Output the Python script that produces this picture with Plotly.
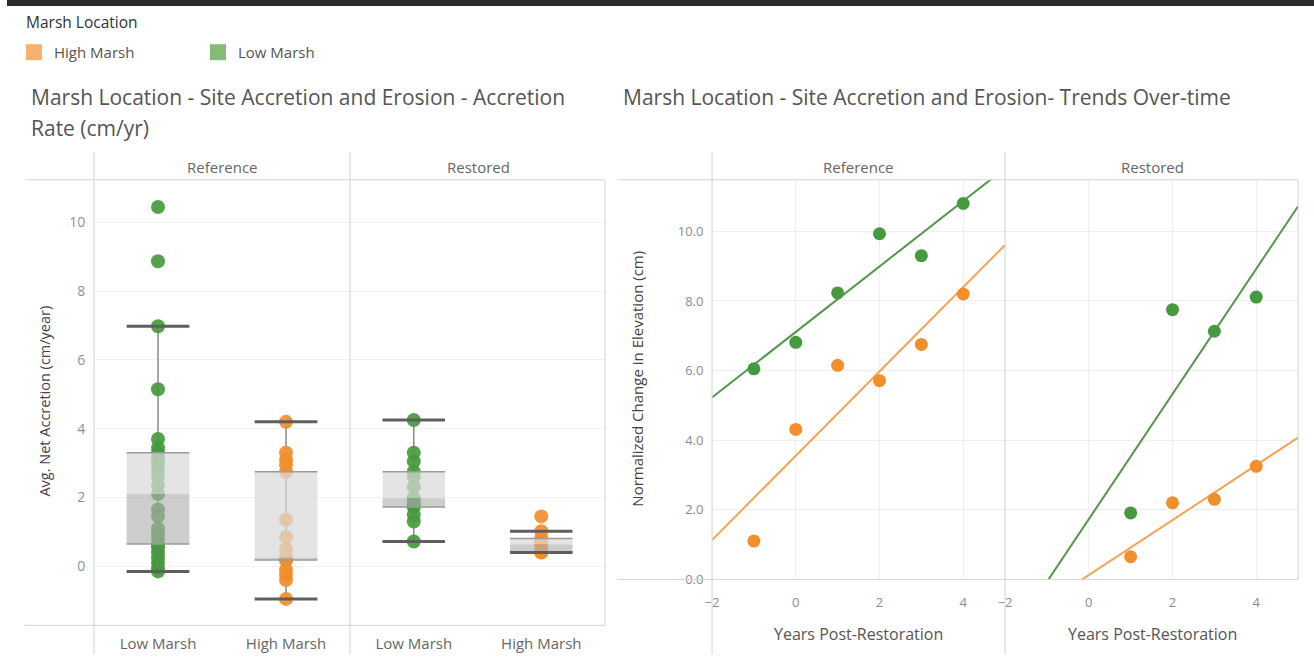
import numpy as np
import plotly.graph_objects as go

# figure fills the page (body margin removed in post_script)
W, H = 1314, 666
# measured mapping from page pixels to photographed pixels
SX, OXP = 0.9946, 7.0
SY, OYP = 0.9875, 0.0

GREEN = "#46993f"
ORANGE = "#f28e2b"
GREEN_LINE = "#55954c"
ORANGE_LINE = "#f5a352"
GREEN_KEY = "#82bd78"
ORANGE_KEY = "#f5b16d"
FONT = "Open Sans"

# ---------------- data ----------------
categories = ["Low Marsh", "High Marsh"]
panels = ["Reference", "Restored"]

# Avg. net accretion (cm/year) per site
ref_low_rates = [-0.15, -0.05, 0.1, 0.25, 0.4, 0.55, 0.65, 0.8, 0.95, 1.1, 1.45, 1.65,
                 2.1, 2.35, 2.6, 2.8, 3.0, 3.15, 3.3, 3.45, 3.7, 5.15, 6.98, 8.87, 10.45]
ref_high_rates = [-0.95, -0.4, -0.25, -0.1, 0.18, 0.2, 0.2, 0.22, 0.25, 0.5, 0.85, 1.35,
                  2.75, 2.95, 3.1, 3.3, 4.2]
res_low_rates = [0.72, 1.3, 1.5, 1.72, 1.8, 1.9, 1.98, 2.3, 2.6, 2.75, 3.05, 3.3, 4.25]
res_high_rates = [0.4, 0.41, 0.41, 0.5, 0.64, 0.72, 0.81, 1.02, 1.45]

# Normalized change in elevation (cm) by years post-restoration
ref_years = [-1, 0, 1, 2, 3, 4]
ref_low_elev = [6.05, 6.81, 8.23, 9.93, 9.30, 10.80]
ref_high_elev = [1.10, 4.31, 6.15, 5.71, 6.75, 8.20]
res_years = [1, 2, 3, 4]
res_low_elev = [1.91, 7.75, 7.13, 8.11]
res_high_elev = [0.65, 2.20, 2.30, 3.25]

year_ticks = [-2, 0, 2, 4]
rate_ticks = [0, 2, 4, 6, 8, 10]
elev_ticks = [0, 2, 4, 6, 8, 10]


def px(x):
    return ((x - OXP) / SX) / W


def py(y):
    return 1 - ((y - OYP) / SY) / H


fig = go.Figure()


def add_box(xaxis, xpos, values, color):
    v = np.array(values, dtype=float)
    q1, med, q3 = np.percentile(v, [25, 50, 75])
    iqr = q3 - q1
    lo = v[v >= q1 - 1.5 * iqr].min()
    hi = v[v <= q3 + 1.5 * iqr].max()
    hw = 0.245
    common = dict(xaxis=xaxis, yaxis="y", showlegend=False, hoverinfo="skip")
    fig.add_trace(go.Scatter(x=[xpos, xpos], y=[lo, hi], mode="lines",
                             line=dict(color="#777777", width=1.3), **common))
    fig.add_trace(go.Scatter(x=[xpos] * len(v), y=v, mode="markers",
                             marker=dict(size=14, color=color, opacity=0.92),
                             xaxis=xaxis, yaxis="y", showlegend=False))
    xs = [xpos - hw, xpos + hw, xpos + hw, xpos - hw, xpos - hw]
    fig.add_trace(go.Scatter(x=xs, y=[med, med, q3, q3, med], fill="toself",
                             fillcolor="rgba(218,218,218,0.72)", mode="lines",
                             line=dict(width=0, color="rgba(0,0,0,0)"), **common))
    fig.add_trace(go.Scatter(x=xs, y=[q1, q1, med, med, q1], fill="toself",
                             fillcolor="rgba(175,175,175,0.62)", mode="lines",
                             line=dict(width=0, color="rgba(0,0,0,0)"), **common))
    for yv, col, wd in [(q1, "#9a9a9a", 1.5), (q3, "#9a9a9a", 1.5),
                        (lo, "#5e5e5e", 3), (hi, "#5e5e5e", 3)]:
        fig.add_trace(go.Scatter(x=[xpos - hw, xpos + hw], y=[yv, yv], mode="lines",
                                 line=dict(color=col, width=wd), **common))


add_box("x", 0, ref_low_rates, GREEN)
add_box("x", 1, ref_high_rates, ORANGE)
add_box("x2", 0, res_low_rates, GREEN)
add_box("x2", 1, res_high_rates, ORANGE)


def add_trend(xaxis, xs, ys, dot_color, line_color):
    slope, icpt = np.polyfit(xs, ys, 1)
    lx = np.array([-2.0, 5.0])
    fig.add_trace(go.Scatter(x=lx, y=slope * lx + icpt, mode="lines",
                             line=dict(color=line_color, width=2),
                             xaxis=xaxis, yaxis="y3", showlegend=False, hoverinfo="skip"))
    fig.add_trace(go.Scatter(x=xs, y=ys, mode="markers",
                             marker=dict(size=13, color=dot_color),
                             xaxis=xaxis, yaxis="y3", showlegend=False))


add_trend("x3", ref_years, ref_low_elev, GREEN, GREEN_LINE)
add_trend("x3", ref_years, ref_high_elev, ORANGE, ORANGE_LINE)
add_trend("x4", res_years, res_low_elev, GREEN, GREEN_LINE)
add_trend("x4", res_years, res_high_elev, ORANGE, ORANGE_LINE)

# legend entries
fig.add_trace(go.Scatter(x=[None], y=[None], mode="markers", name="High Marsh",
                         marker=dict(symbol="square", size=16, color=ORANGE_KEY)))
fig.add_trace(go.Scatter(x=[None], y=[None], mode="markers", name="Low Marsh",
                         marker=dict(symbol="square", size=16, color=GREEN_KEY)))

cat_axis = dict(range=[-0.5, 1.5], tickvals=[0, 1], ticktext=categories,
                showgrid=False, zeroline=False, showline=False,
                ticks="outside", ticklen=5, tickcolor="rgba(0,0,0,0)",
                tickfont=dict(family=FONT, size=15, color="#666666"), anchor="y",
                fixedrange=True)
year_axis = dict(range=[-2, 5], tickvals=year_ticks, showgrid=True, gridcolor="#efefef",
                 zeroline=False, showline=False, ticks="outside", ticklen=11,
                 tickcolor="rgba(0,0,0,0)",
                 tickfont=dict(family=FONT, size=13, color="#8c8c8c"), anchor="y3")

fig.update_layout(
    width=W, height=H, autosize=False,
    margin=dict(l=0, r=0, t=0, b=0),
    paper_bgcolor="white", plot_bgcolor="white",
    font=dict(family=FONT, color="#555555"),
    xaxis=dict(domain=[px(94), px(350)], **cat_axis),
    xaxis2=dict(domain=[px(350), px(605)], **cat_axis),
    yaxis=dict(domain=[py(626), py(180)], range=[-1.72, 11.24], tickvals=rate_ticks,
               showgrid=True, gridcolor="#f1f1f1", zeroline=False, showline=False,
               ticks="outside", ticklen=5, tickcolor="rgba(0,0,0,0)",
               tickfont=dict(family=FONT, size=14, color="#8f8f8f"), anchor="x"),
    xaxis3=dict(domain=[px(712), px(1005)], **year_axis),
    xaxis4=dict(domain=[px(1005), px(1298)], **year_axis),
    yaxis3=dict(domain=[py(580), py(180)], range=[0, 11.48], tickvals=elev_ticks,
                tickformat=".1f", showgrid=True, gridcolor="#efefef", zeroline=False,
                showline=False, ticks="outside", ticklen=5, tickcolor="rgba(0,0,0,0)",
                tickfont=dict(family=FONT, size=13, color="#8c8c8c"), anchor="x3"),
    legend=dict(orientation="h", x=px(14), y=py(36), xanchor="left", yanchor="top",
                font=dict(family=FONT, size=15, color="#555555"),
                entrywidth=139, entrywidthmode="pixels", bgcolor="rgba(0,0,0,0)"),
)

anns = []


def ann(text, x, y, size, color, xanchor="center", angle=0):
    anns.append(dict(text=text, x=px(x), y=py(y), xref="paper", yref="paper",
                     xanchor=xanchor, yanchor="middle", showarrow=False, textangle=angle,
                     font=dict(family=FONT, size=size, color=color)))


ann("Marsh Location", 24, 22, 15.5, "#333333", "left")
ann("Marsh Location - Site Accretion and Erosion - Accretion", 29, 97, 21, "#555555", "left")
ann("Rate (cm/yr)", 29, 128, 21, "#555555", "left")
ann("Marsh Location - Site Accretion and Erosion- Trends Over-time", 621, 97, 21, "#555555", "left")
ann(panels[0], 222, 167, 15, "#666666")
ann(panels[1], 478, 167, 15, "#666666")
ann(panels[0], 858, 167, 15, "#666666")
ann(panels[1], 1152, 167, 15, "#666666")
ann("Avg. Net Accretion (cm/year)", 45, 402, 14.5, "#444444", angle=-90)
ann("Normalized Change in Elevation (cm)", 637, 379, 15, "#444444", angle=-90)
ann("Years Post-Restoration", 858, 635, 16, "#555555")
ann("Years Post-Restoration", 1152, 635, 16, "#555555")
fig.update_layout(annotations=anns)

shapes = []
LC = "#d3d3d3"


def hline(y, x0, x1):
    shapes.append(dict(type="line", xref="paper", yref="paper", x0=px(x0), x1=px(x1),
                       y0=py(y), y1=py(y), line=dict(color=LC, width=1)))


def vline(x, y0, y1):
    shapes.append(dict(type="line", xref="paper", yref="paper", x0=px(x), x1=px(x),
                       y0=py(y0), y1=py(y1), line=dict(color=LC, width=1)))


hline(180, 25, 605)
hline(626, 25, 605)
vline(94, 152, 655)
vline(350, 152, 655)
vline(605, 180, 626)
hline(180, 617, 1298)
hline(580, 617, 1298)
vline(712, 152, 655)
vline(1005, 152, 655)
vline(1298, 180, 580)
# dark top edge of the screenshot
shapes.append(dict(type="rect", xref="paper", yref="paper", x0=0, x1=1, y0=py(6), y1=1,
                   fillcolor="#2a2a2a", line=dict(width=0)))
fig.update_layout(shapes=shapes)

fig.write_html(
    "out.html",
    config={"displayModeBar": False},
    post_script="document.body.style.margin='0';document.body.style.overflow='hidden';",
)
